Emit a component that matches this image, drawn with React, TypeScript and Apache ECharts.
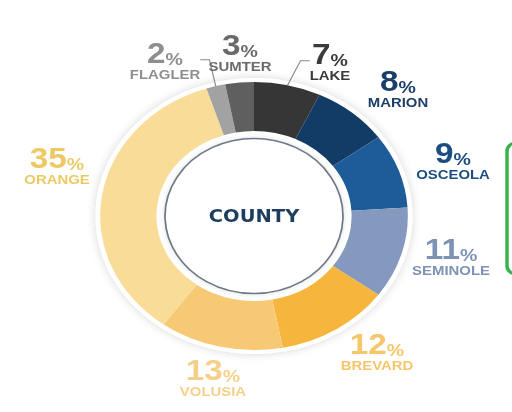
import React, { useEffect, useRef } from "react";
import * as echarts from "echarts";

const counties = ["LAKE", "MARION", "OSCEOLA", "SEMINOLE", "BREVARD", "VOLUSIA", "ORANGE", "FLAGLER", "SUMTER"];
const shares = [7, 8, 9, 11, 12, 13, 35, 2, 3];
const sliceColors = ["#363636", "#123c66", "#1d5c98", "#8499bd", "#f6b53c", "#f8c974", "#f8dc97", "#a2a2a2", "#5f5f5f"];
const labelColors = ["#3a3a3a", "#1b3f6a", "#1c4d80", "#7d92b5", "#f6c66a", "#f5d08a", "#edc964", "#8e8e8e", "#6a6a6a"];
const leaderLines = ["LAKE", "FLAGLER"];
const centerTitle = "COUNTY";

// The original graphic is stretched horizontally; the chart is drawn at a
// narrower width and stretched back by the same factor.
const STRETCH = 1.148;
const PAGE_W = 512;
const PAGE_H = 412;
const CHART_W = PAGE_W / STRETCH;

// label block centres, in page pixels (layout only)
const LABEL_POS: Record<string, [number, number]> = {
  LAKE: [330, 61],
  MARION: [398, 88],
  OSCEOLA: [453, 160],
  SEMINOLE: [451, 256],
  BREVARD: [377, 351],
  VOLUSIA: [213, 377],
  ORANGE: [57, 165],
  FLAGLER: [165, 60],
  SUMTER: [240, 52],
};

const DIGIT_FONT = "'Liberation Sans', Arial, sans-serif";
const NAME_FONT = "'Liberation Sans', Arial, sans-serif";

export default function App() {
  const ref = useRef<HTMLDivElement>(null);
  useEffect(() => {
    if (!ref.current) return;
    const chart = echarts.init(ref.current, undefined, { renderer: "svg" });
    const center = [254 / STRETCH, 216];
    const data = counties.map((name, i) => ({
      name,
      value: shares[i],
      itemStyle: { color: sliceColors[i] },
      label: {
        rich: {
          p: { fontSize: 29, fontWeight: "bold", color: labelColors[i], fontFamily: DIGIT_FONT, lineHeight: 29 },
          s: { fontSize: 17, fontWeight: "bold", color: labelColors[i], fontFamily: DIGIT_FONT, lineHeight: 29, verticalAlign: "bottom" },
          n: { fontSize: 13, fontWeight: "bold", color: labelColors[i], fontFamily: NAME_FONT, lineHeight: 14 },
        },
      },
      labelLine: { show: leaderLines.includes(name) },
    }));
    chart.setOption({
      animation: false,
      backgroundColor: "#ffffff",
      graphic: [
        {
          type: "rect",
          shape: { x: 507 / STRETCH, y: 143, width: 30, height: 131, r: 8 },
          style: { fill: "#ffffff", stroke: "#36b34a", lineWidth: 3 },
        },
      ],
      series: [
        {
          type: "pie",
          center,
          radius: [0, 138],
          silent: true,
          label: { show: false },
          labelLine: { show: false },
          itemStyle: { color: "#ffffff", shadowBlur: 8, shadowColor: "rgba(0,0,0,0.16)" },
          data: [{ value: 1, name: "bg" }],
          z: 1,
        },
        {
          type: "pie",
          center,
          radius: [85, 134],
          startAngle: 90,
          clockwise: true,
          avoidLabelOverlap: false,
          itemStyle: { borderWidth: 0 },
          label: {
            show: true,
            position: "outside",
            formatter: (p: any) => `{p|${p.value}}{s|%}\n{n|${p.name}}`,
            align: "center",
          },
          labelLine: { show: false, length: 10, length2: 8, lineStyle: { color: "#8a8a8a", width: 1 } },
          labelLayout: (params: any) => {
            const pos = LABEL_POS[counties[params.dataIndex]];
            return { x: pos[0] / STRETCH, y: pos[1], align: "center", verticalAlign: "middle" };
          },
          data,
          z: 2,
        },
        {
          type: "pie",
          center,
          radius: [0, 77.5],
          silent: true,
          itemStyle: {
            color: "#ffffff",
            borderColor: "#6f7887",
            borderWidth: 1.5,
            shadowBlur: 5,
            shadowColor: "rgba(0,0,0,0.12)",
          },
          label: {
            show: true,
            position: "center",
            formatter: centerTitle,
            fontSize: 17,
            fontWeight: "bold",
            fontFamily: "'DejaVu Sans', sans-serif",
            color: "#1d3e5e",
          },
          labelLine: { show: false },
          data: [{ value: 1, name: centerTitle }],
          z: 3,
        },
      ],
    });
    return () => chart.dispose();
  }, []);
  return (
    <div style={{ position: "fixed", left: 0, top: 0, width: PAGE_W, height: PAGE_H, overflow: "hidden", background: "#fff" }}>
      <div
        ref={ref}
        style={{
          width: CHART_W,
          height: PAGE_H,
          transform: `scaleX(${STRETCH})`,
          transformOrigin: "0 0",
        }}
      />
    </div>
  );
}
